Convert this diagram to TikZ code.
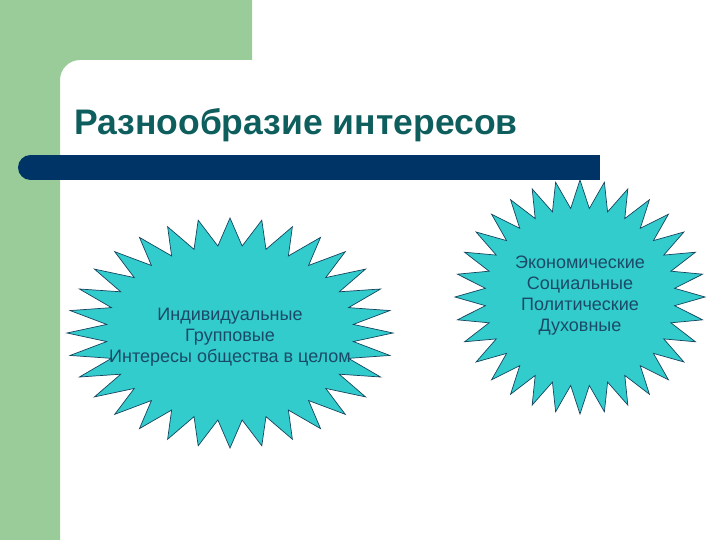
\documentclass[tikz,border=0pt]{standalone}
\usepackage{fontspec}
\setmainfont{Liberation Sans}
\begin{document}
\begin{tikzpicture}[x=1pt,y=-1pt,
  burst/.style={fill=starfill,draw=staredge,line width=0.7pt,line join=miter},
  bursttext/.style={align=center,text=textblue,font=\fontsize{18}{21}\selectfont,inner sep=0pt}]
\definecolor{greenbg}{HTML}{99CC99}
\definecolor{barblue}{HTML}{003366}
\definecolor{starfill}{HTML}{33CCCC}
\definecolor{staredge}{HTML}{16455F}
\definecolor{textblue}{HTML}{1A4A68}
\definecolor{titleteal}{HTML}{0F5E5E}
\useasboundingbox (0,0) rectangle (720,540);
% green frame with rounded inner corner
\fill[greenbg] (0,0) -- (252,0) -- (252,60) -- (80,60) .. controls (69,60) and (60,69) .. (60,80) -- (60,540) -- (0,540) -- cycle;
% dark bar
\fill[barblue] (30,155) rectangle (600,180);
\fill[barblue] (30.5,167.5) circle[radius=12.5pt];
% title
\node[anchor=base west,inner sep=0pt,text=titleteal,font=\fontsize{35.5}{40}\selectfont\bfseries] (title) at (74,135) {Разнообразие интересов};
% left burst
\path[burst] (230,218) \foreach \k in {1,...,63}{ -- ({230+(isodd(\k)?0.76:1)*163*sin(5.625*\k)},{333-(isodd(\k)?0.76:1)*115*cos(5.625*\k)}) } -- cycle;
\node[bursttext] (left) at (230,337) {Индивидуальные\\Групповые\\Интересы общества в целом};
% right burst
\path[burst] (580,180) \foreach \k in {1,...,63}{ -- ({580+(isodd(\k)?0.76:1)*125*sin(5.625*\k)},{297-(isodd(\k)?0.76:1)*117*cos(5.625*\k)}) } -- cycle;
\node[bursttext] (right) at (580,296) {Экономические\\Социальные\\Политические\\Духовные};
\end{tikzpicture}
\end{document}
